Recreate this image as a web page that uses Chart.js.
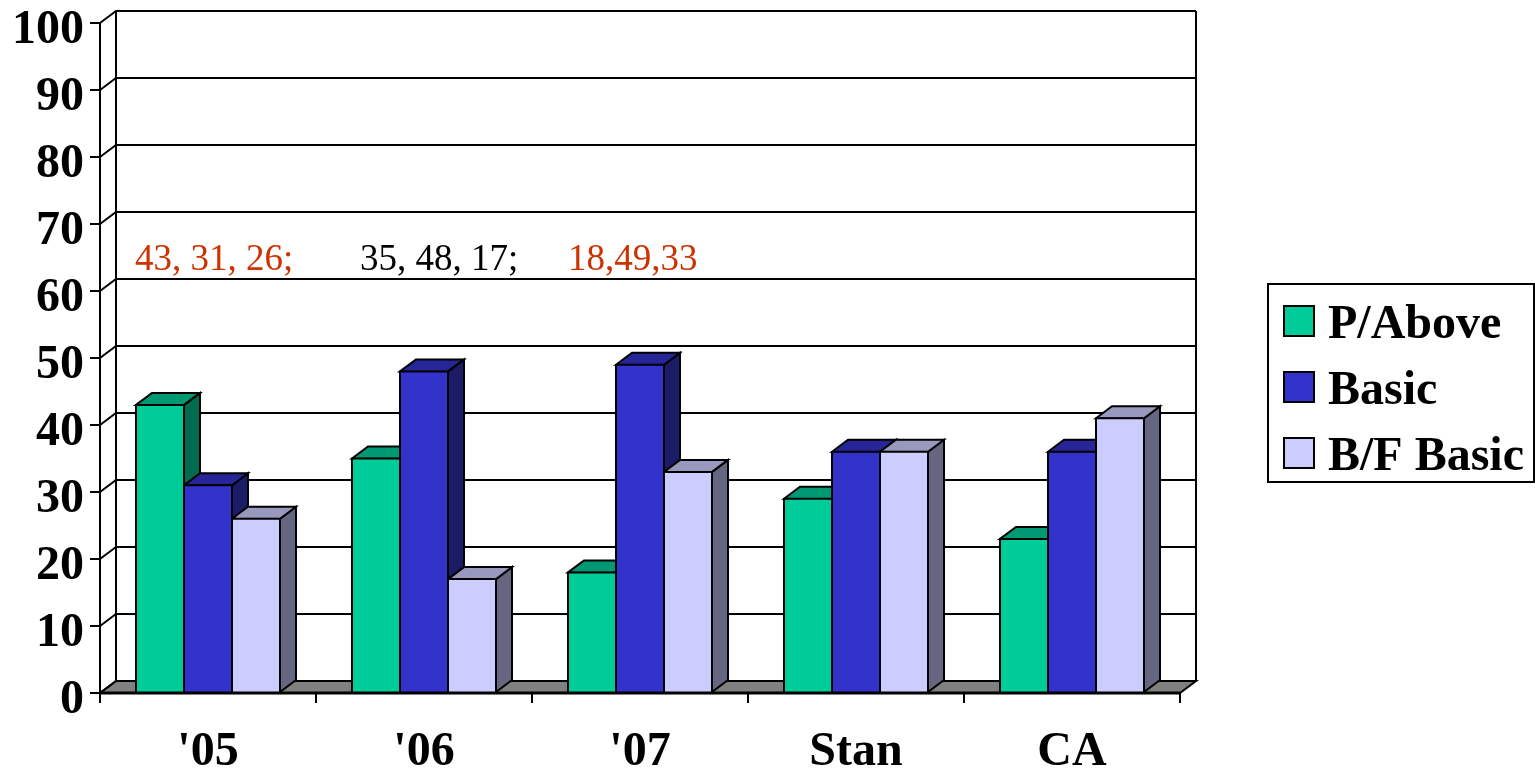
<!DOCTYPE html>
<html>
<head>
<meta charset="utf-8">
<script src="https://cdn.jsdelivr.net/npm/chart.js@4"></script>
<style>
    html, body { margin: 0; padding: 0; background: #fff; overflow: hidden; }
    canvas { display: block; }
</style>
</head>
<body>
<canvas id="chart3d" width="1535" height="769"></canvas>
<script>
var categories = ["'05", "'06", "'07", "Stan", "CA"];
var pAbove = [43, 35, 18, 29, 23];
var basic = [31, 48, 49, 36, 36];
var bfBasic = [26, 17, 33, 36, 41];
var notes = ["43, 31, 26;", "35, 48, 17;", "18,49,33"];
var noteColors = ["#CC3300", "#000000", "#CC3300"];
var noteX = [135, 360, 568];

var serif = '"Liberation Serif", "Times New Roman", serif';
var depthX = 16;
var depthY = 12;

function poly(ctx, pts, fill) {
    ctx.beginPath();
    ctx.moveTo(pts[0][0], pts[0][1]);
    for (var i = 1; i < pts.length; i++) ctx.lineTo(pts[i][0], pts[i][1]);
    ctx.closePath();
    if (fill) {
        ctx.fillStyle = fill;
        ctx.fill();
    }
    ctx.stroke();
}

// back wall, floor and the top and right faces of the bars
var backdrop = {
    id: 'backdrop',
    beforeDatasetsDraw: function(chart) {
        var ctx = chart.ctx, a = chart.chartArea, y = chart.scales.y;
        ctx.save();
        ctx.strokeStyle = '#000';
        ctx.lineWidth = 2;
        ctx.lineJoin = 'miter';

        poly(ctx, [[a.left, a.bottom], [a.left + depthX, a.bottom - depthY],
            [a.right + depthX, a.bottom - depthY], [a.right, a.bottom]], '#808080');

        y.ticks.forEach(function(t) {
            var py = y.getPixelForValue(t.value);
            ctx.beginPath();
            ctx.moveTo(a.left, py);
            ctx.lineTo(a.left + depthX, py - depthY);
            ctx.lineTo(a.right + depthX, py - depthY);
            ctx.stroke();
        });
        ctx.beginPath();
        ctx.moveTo(a.left + depthX, a.top - depthY);
        ctx.lineTo(a.left + depthX, a.bottom - depthY);
        ctx.moveTo(a.right + depthX, a.top - depthY);
        ctx.lineTo(a.right + depthX, a.bottom - depthY);
        ctx.stroke();

        // notes sit on the wall, behind the bars
        ctx.font = '37px ' + serif;
        ctx.textAlign = 'left';
        ctx.textBaseline = 'alphabetic';
        notes.forEach(function(n, i) {
            ctx.fillStyle = noteColors[i];
            ctx.fillText(n, noteX[i], 270);
        });

        chart.data.labels.forEach(function(c, i) {
            chart.data.datasets.forEach(function(ds, d) {
                var bar = chart.getDatasetMeta(d).data[i];
                var l = bar.x - bar.width / 2, r = bar.x + bar.width / 2;
                poly(ctx, [[r, bar.y], [r + depthX, bar.y - depthY],
                    [r + depthX, bar.base - depthY], [r, bar.base]], ds.sideColor);
                poly(ctx, [[l, bar.y], [l + depthX, bar.y - depthY],
                    [r + depthX, bar.y - depthY], [r, bar.y]], ds.topColor);
            });
        });
        ctx.restore();
    },
    afterDatasetsDraw: function(chart) {
        var ctx = chart.ctx, a = chart.chartArea;
        ctx.save();
        ctx.strokeStyle = '#000';
        ctx.lineWidth = 3;
        ctx.beginPath();
        ctx.moveTo(a.left - 1, a.bottom);
        ctx.lineTo(a.right, a.bottom);
        ctx.stroke();
        ctx.restore();
    }
};

// boxed legend to the right of the plot
var boxLegend = {
    id: 'boxLegend',
    afterDraw: function(chart) {
        var ctx = chart.ctx;
        ctx.save();
        ctx.strokeStyle = '#000';
        ctx.lineWidth = 2;
        ctx.strokeRect(1268, 284, 266, 198);
        ctx.font = 'bold 48px ' + serif;
        ctx.textAlign = 'left';
        ctx.textBaseline = 'alphabetic';
        chart.data.datasets.forEach(function(ds, i) {
            var top = 306 + i * 66;
            ctx.fillStyle = ds.backgroundColor;
            ctx.fillRect(1284, top, 30, 30);
            ctx.strokeRect(1284, top, 30, 30);
            ctx.fillStyle = '#000';
            ctx.fillText(ds.label, 1328, top + 32);
        });
        ctx.restore();
    }
};

new Chart(document.getElementById('chart3d'), {
    type: 'bar',
    data: {
        labels: categories,
        datasets: [
            { label: 'P/Above', data: pAbove, backgroundColor: '#00CC99', topColor: '#009973', sideColor: '#006B50' },
            { label: 'Basic', data: basic, backgroundColor: '#3333CC', topColor: '#262699', sideColor: '#1C1C66' },
            { label: 'B/F Basic', data: bfBasic, backgroundColor: '#CCCCFF', topColor: '#9999BF', sideColor: '#666680' }
        ]
    },
    options: {
        responsive: false,
        animation: false,
        layout: { padding: { top: 23, right: 355, left: 0, bottom: 0 } },
        datasets: {
            bar: {
                borderColor: '#000',
                borderWidth: 2,
                inflateAmount: 1,
                categoryPercentage: 0.6667,
                barPercentage: 1
            }
        },
        plugins: {
            legend: { display: false },
            tooltip: { enabled: false }
        },
        scales: {
            x: {
                afterFit: function(s) { s.height = 76; },
                grid: { drawOnChartArea: false, color: '#000', lineWidth: 2, tickLength: 10 },
                border: { display: false },
                ticks: {
                    color: '#000',
                    font: { family: serif, size: 48, weight: 'bold' },
                    padding: 21,
                    maxRotation: 0,
                    autoSkip: false
                }
            },
            y: {
                min: 0,
                max: 100,
                afterFit: function(s) {
                    s.width = 100;
                    // the big tick labels would otherwise push the plot down
                    s.paddingTop = 0;
                    s.paddingBottom = 0;
                },
                grid: { drawOnChartArea: false, color: '#000', lineWidth: 2, tickLength: 10 },
                border: { display: true, color: '#000', width: 2 },
                ticks: {
                    stepSize: 10,
                    color: '#000',
                    font: { family: serif, size: 48, weight: 'bold' },
                    padding: 6,
                    labelOffset: 8
                }
            }
        }
    },
    plugins: [backdrop, boxLegend]
});
</script>
</body>
</html>
